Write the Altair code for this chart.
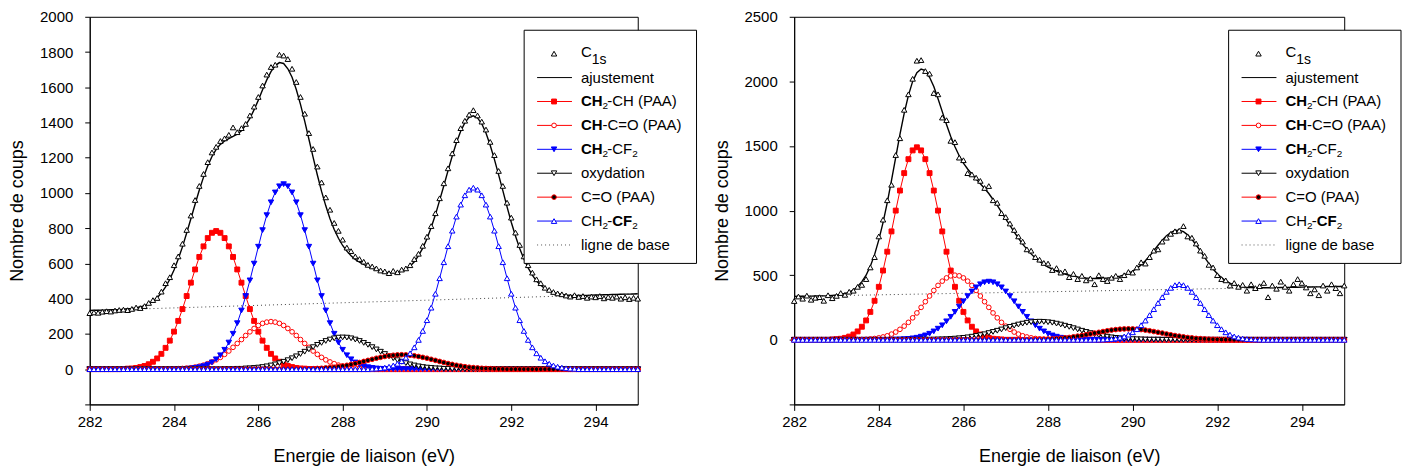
import altair as alt
import pandas as pd

FONT = "Liberation Sans"
RED = "#ff0000"
BLUE = "#0000ff"
BLACK = "#000000"

# ---------------- shared axis data ----------------
energy = [round(282 + 0.1 * i, 1) for i in range(131)]
x_ticks = [282, 284, 286, 288, 290, 292, 294]

# ---------------- left panel ----------------
left_y_ticks = [-200, 0, 200, 400, 600, 800, 1000, 1200, 1400, 1600, 1800, 2000]
left_raw = [318, 322, 320, 326, 329, 327, 333, 336, 338, 335,
            342, 350, 347, 358, 376, 392, 404, 440, 488, 522,
            590, 640, 712, 790, 872, 960, 1040, 1108, 1175, 1230,
            1262, 1295, 1310, 1330, 1372, 1345, 1368, 1392, 1440, 1490,
            1545, 1610, 1672, 1715, 1728, 1785, 1780, 1760, 1705, 1630,
            1545, 1450, 1340, 1250, 1150, 1060, 975, 905, 830, 785,
            735, 690, 670, 640, 625, 610, 592, 583, 572, 560,
            555, 545, 558, 550, 565, 572, 590, 625, 655, 700,
            752, 812, 885, 970, 1055, 1140, 1225, 1300, 1368, 1410,
            1445, 1470, 1440, 1405, 1360, 1290, 1215, 1125, 1040, 945,
            860, 775, 705, 640, 590, 548, 510, 488, 462, 450,
            438, 430, 425, 418, 412, 420, 410, 415, 405, 412,
            408, 415, 402, 410, 405, 412, 400, 408, 398, 405, 400]
left_fit = [333, 334, 334, 335, 336, 337, 337, 338, 340, 343,
            344, 348, 354, 361, 371, 386, 406, 432, 467, 510,
            563, 625, 694, 773, 854, 936, 1017, 1090, 1154, 1207,
            1248, 1276, 1295, 1309, 1321, 1334, 1353, 1385, 1423, 1473,
            1527, 1586, 1642, 1689, 1723, 1740, 1735, 1705, 1657, 1587,
            1503, 1408, 1305, 1202, 1102, 1009, 927, 854, 793, 743,
            702, 670, 644, 623, 608, 594, 582, 573, 564, 556,
            551, 548, 548, 549, 556, 568, 585, 610, 644, 687,
            740, 804, 876, 958, 1041, 1127, 1210, 1286, 1350, 1399,
            1429, 1438, 1426, 1393, 1340, 1271, 1191, 1103, 1013, 921,
            834, 756, 685, 625, 575, 534, 500, 476, 457, 444,
            434, 428, 424, 421, 419, 419, 418, 418, 419, 420,
            421, 421, 422, 423, 424, 424, 425, 426, 426, 427, 428]
left_ch2ch = [0] * 8 + [1, 3, 4, 7, 12, 18, 28, 42, 61, 87, 121, 162, 213, 274, 341, 415, 491, 566, 637, 697, 744, 774,
                        784,
                        774, 744, 697, 637, 566, 491, 415, 341, 274, 213, 162, 121, 87, 61, 42, 28, 18, 12, 7, 4, 3, 1] + [0] * 78
left_chco = [0] * 19 + [1, 2, 3, 4, 6, 8, 12, 17, 23, 31, 41, 53, 67, 84, 103, 124, 146, 168, 191, 212, 231, 248, 260, 267,
                        270,
                        267, 260, 248, 231, 212, 191, 168, 146, 124, 103, 84, 67, 53, 41, 31, 23, 17, 12, 8, 6, 4, 3, 2, 1] + [0] * 63
left_ch2cf2 = [0] * 23 + [2, 4, 7, 11, 17, 26, 38, 56, 79, 110, 151, 201, 261, 333, 415, 504, 599, 695, 789, 874, 947, 1003, 1038,
                          1050,
                          1038, 1003, 947, 874, 789, 695, 599, 504, 415, 333, 261, 201, 151, 110, 79, 56, 38, 26, 17, 11, 7, 4, 2] + [0] * 61
left_oxyd = [0] * 32 + [1, 1, 1, 2, 2, 4, 5, 7, 9, 12, 16, 21, 27, 34, 42, 51, 62, 73, 86, 99, 112, 125, 138, 149, 160, 168, 175, 179,
                        180,
                        179, 175, 168, 160, 149, 138, 125, 112, 99, 86, 73, 62, 51, 42, 34, 27, 21, 16, 12, 9, 7, 5, 4, 2, 2, 1, 1, 1] + [0] * 42
left_co = [0] * 50 + [1, 1, 2, 3, 4, 5, 7, 9, 11, 14, 18, 22, 27, 32, 38, 44, 50, 56, 62, 67, 72, 76, 79, 81,
                      82,
                      81, 79, 76, 72, 67, 62, 56, 50, 44, 38, 32, 27, 22, 18, 14, 11, 9, 7, 5, 4, 3, 2, 1, 1] + [0] * 32
left_cf2 = [0] * 67 + [2, 3, 5, 9, 14, 21, 31, 45, 65, 90, 124, 166, 217, 278, 349, 428, 516, 607, 698, 786, 866, 934, 987, 1019,
                       1030,
                       1019, 987, 934, 866, 786, 698, 607, 516, 428, 349, 278, 217, 166, 124, 90, 65, 45, 31, 21, 14, 9, 5, 3, 2] + [0] * 15
left_base_x = [282, 295]
left_base_y = [333, 428]

# ---------------- right panel ----------------
right_y_ticks = [-500, 0, 500, 1000, 1500, 2000, 2500]
right_raw = [300, 335, 318, 342, 310, 325, 330, 302, 345, 322,
             340, 362, 348, 372, 380, 410, 425, 470, 560, 640,
             800, 930, 1080, 1200, 1430, 1560, 1780, 1900, 2020, 2160,
             2165, 2080, 2060, 1910, 1900, 1720, 1700, 1540, 1530, 1410,
             1390, 1290, 1280, 1255, 1230, 1175, 1190, 1080, 1060, 980,
             950, 900, 850, 800, 760, 700, 690, 640, 620, 595,
             590, 540, 555, 520, 530, 485, 510, 470, 495, 460,
             475, 430, 500, 470, 455, 480, 495, 470, 500, 525,
             520, 560, 600, 590, 640, 690, 700, 760, 790, 820,
             840, 845, 880, 800, 790, 745, 690, 650, 580, 560,
             500, 470, 460, 420, 440, 410, 425, 380, 430, 400,
             415, 440, 330, 420, 395, 450, 410, 380, 430, 470,
             440, 405, 360, 390, 345, 420, 380, 430, 400, 360, 420]
right_fit = [336, 337, 337, 338, 338, 339, 340, 340, 341, 344,
             347, 351, 358, 369, 386, 412, 450, 500, 570, 659,
             773, 907, 1062, 1234, 1412, 1590, 1753, 1892, 2000, 2067,
             2096, 2083, 2032, 1960, 1866, 1766, 1667, 1574, 1494, 1425,
             1368, 1322, 1281, 1245, 1208, 1171, 1132, 1086, 1040, 989,
             936, 886, 834, 787, 740, 702, 665, 633, 607, 583,
             563, 548, 532, 519, 509, 500, 494, 487, 482, 478,
             475, 474, 474, 476, 478, 481, 486, 493, 502, 515,
             531, 553, 580, 612, 648, 689, 732, 770, 805, 830,
             846, 849, 837, 812, 778, 734, 688, 638, 591, 548,
             512, 481, 456, 439, 424, 416, 410, 406, 405, 403,
             403, 403, 403, 404, 404, 405, 406, 406, 407, 407,
             408, 409, 409, 410, 410, 411, 412, 412, 413, 413, 414]
right_ch2ch = [0] * 9 + [3, 5, 8, 15, 25, 41, 65, 101, 150, 216, 302, 410, 536, 682, 839, 1000, 1155, 1290, 1398, 1466,
                         1490,
                         1466, 1398, 1290, 1155, 1000, 839, 682, 536, 410, 302, 216, 150, 101, 65, 41, 25, 15, 8, 5, 3] + [0] * 81
right_chco = [0] * 14 + [1, 2, 3, 4, 7, 10, 15, 22, 31, 44, 60, 81, 106, 135, 170, 208, 251, 295, 339, 382, 421, 454, 479, 495,
                         500,
                         495, 479, 454, 421, 382, 339, 295, 251, 208, 170, 135, 106, 81, 60, 44, 31, 22, 15, 10, 7, 4, 3, 2, 1] + [0] * 68
right_ch2cf2 = [0] * 23 + [1, 2, 3, 5, 7, 11, 16, 24, 34, 47, 65, 86, 112, 143, 178, 216, 257, 298, 338, 374, 406, 430, 445,
                           450,
                           445, 430, 406, 374, 338, 298, 257, 216, 178, 143, 112, 86, 65, 47, 34, 24, 16, 11, 7, 5, 3, 2, 1] + [0] * 61
right_oxyd = [0] * 30 + [1, 1, 1, 2, 3, 4, 5, 7, 9, 12, 15, 19, 24, 30, 36, 43, 52, 61, 70, 80, 90, 100, 109, 118, 125, 132, 136, 139,
                         140,
                         139, 136, 132, 125, 118, 109, 100, 90, 80, 70, 61, 52, 43, 36, 30, 24, 19, 15, 12, 9, 7, 5, 4, 3, 2, 1, 1, 1] + [0] * 44
right_co = [0] * 55 + [1, 1, 2, 3, 4, 5, 7, 9, 11, 15, 18, 23, 28, 33, 39, 45, 52, 58, 64, 70, 75, 79, 82, 84,
                       85,
                       84, 82, 79, 75, 70, 64, 58, 52, 45, 39, 33, 28, 23, 18, 15, 11, 9, 7, 5, 4, 3, 2, 1, 1] + [0] * 27
right_cf2 = [0] * 72 + [1, 2, 4, 6, 10, 17, 26, 40, 58, 82, 113, 149, 191, 237, 285, 330, 371, 402, 423,
                        430,
                        423, 402, 371, 330, 285, 237, 191, 149, 113, 82, 58, 40, 26, 17, 10, 6, 4, 2, 1] + [0] * 20
right_base_x = [282, 295]
right_base_y = [336, 414]

# ---------------- styles ----------------
# key, line colour, marker shape, marker fill, marker stroke, marker size
COMP_STYLE = [
    ("ch2ch", RED, "square", RED, RED, 24),
    ("chco", RED, "circle", "white", RED, 22),
    ("ch2cf2", BLUE, "triangle-down", BLUE, BLUE, 30),
    ("oxyd", BLACK, "triangle-down", "white", BLACK, 30),
    ("co", RED, "circle", BLACK, RED, 22),
    ("cf2", BLUE, "triangle-up", "white", BLUE, 30),
]


def make_panel(raw, fit, comps, base_x, base_y, ydom, yticks, width, height):
    d = {"E": energy, "raw": raw, "fit": fit}
    d.update(comps)
    df = pd.DataFrame(d)
    bdf = pd.DataFrame({"E": base_x, "v": base_y})

    xenc = alt.X("E:Q", scale=alt.Scale(domain=[282, 295], nice=False, zero=False),
                 axis=alt.Axis(values=x_ticks, format="d", title="Energie de liaison (eV)",
                               titleFont=FONT, titleFontSize=18, titleFontWeight="normal",
                               titleColor=BLACK, labelFont=FONT, labelFontSize=15, labelColor=BLACK,
                               tickSize=6, tickColor=BLACK, domainColor=BLACK, labelPadding=4,
                               titlePadding=18, grid=False, labelFlush=False, labelOverlap=False))
    yscale = alt.Scale(domain=ydom, nice=False, zero=False)
    yaxis = alt.Axis(values=yticks, format="d", title="Nombre de coups",
                     titleFont=FONT, titleFontSize=18, titleFontWeight="normal", titleColor=BLACK,
                     labelFont=FONT, labelFontSize=15, labelColor=BLACK, tickSize=5, tickColor=BLACK,
                     domainColor=BLACK, labelPadding=12, titlePadding=13, grid=False,
                     labelFlush=False, labelOverlap=False,
                     labelExpr="datum.value < 0 ? '' : datum.label")

    def Y(f):
        return alt.Y(f + ":Q", scale=yscale, axis=yaxis)

    layers = []
    base = alt.Chart(df)
    layers.append(alt.Chart(bdf).mark_line(color="#444", strokeDash=[1, 3], strokeWidth=1)
                  .encode(x=xenc, y=Y("v")))
    layers.append(base.mark_line(color=BLACK, strokeWidth=1.4).encode(x=xenc, y=Y("fit")))
    layers.append(base.mark_point(shape="triangle-up", size=30, fill="white", stroke=BLACK,
                                  strokeWidth=1, opacity=1).encode(x=xenc, y=Y("raw")))
    for key, lc, shp, mf, ms, sz in COMP_STYLE:
        layers.append(base.mark_line(color=lc, strokeWidth=1).encode(x=xenc, y=Y(key)))
        layers.append(base.mark_point(shape=shp, size=sz, fill=mf, stroke=ms, strokeWidth=1,
                                      opacity=1).encode(x=xenc, y=Y(key)))

    # ----- hand-drawn legend (mixed bold / subscript text) -----
    one = alt.Chart(pd.DataFrame({"k": [0]}))
    bx = 436
    layers.append(one.mark_rect(fill="white", stroke=BLACK, strokeWidth=1)
                  .encode(x=alt.value(bx), x2=alt.value(bx + 173), y=alt.value(13.5), y2=alt.value(247.5)))
    rows_y = [37 + 24 * k for k in range(9)]
    sample = [
        (None, "triangle-up", "white", BLACK, 30),
        (BLACK, None, None, None, None),
    ] + [(lc, shp, mf, ms, sz) for _, lc, shp, mf, ms, sz in COMP_STYLE] + [("dot", None, None, None, None)]
    for ry, (lc, shp, mf, ms, sz) in zip(rows_y, sample):
        if lc == "dot":
            layers.append(one.mark_rule(color="#555", strokeDash=[1, 3], strokeWidth=1)
                          .encode(x=alt.value(bx + 13), x2=alt.value(bx + 48), y=alt.value(ry)))
        elif lc is not None:
            layers.append(one.mark_rule(color=lc, strokeWidth=1)
                          .encode(x=alt.value(bx + 13), x2=alt.value(bx + 48), y=alt.value(ry)))
        if shp is not None:
            layers.append(one.mark_point(shape=shp, size=sz, fill=mf, stroke=ms, strokeWidth=1, opacity=1)
                          .encode(x=alt.value(bx + 30), y=alt.value(ry)))

    tx = bx + 57
    # (row, dx, dy, text, size, weight)
    pieces = [
        (0, 0, -2, "C", 15, "normal"), (0, 10.8, 6, "1s", 14, "normal"),
        (1, 0, 0, "ajustement", 15, "normal"),
        (2, 0, 0, "CH", 15, "bold"), (2, 21.7, 5, "2", 10, "normal"), (2, 26.5, 0, "-CH (PAA)", 15, "normal"),
        (3, 0, 0, "CH", 15, "bold"), (3, 21.7, 0, "-C=O (PAA)", 15, "normal"),
        (4, 0, 0, "CH", 15, "bold"), (4, 21.7, 5, "2", 10, "normal"), (4, 26.5, 0, "-CF", 15, "normal"),
        (4, 51.5, 5, "2", 10, "normal"),
        (5, 0, 0, "oxydation", 15, "normal"),
        (6, 0, 0, "C=O (PAA)", 15, "normal"),
        (7, 0, 0, "CH", 15, "normal"), (7, 21.7, 5, "2", 10, "normal"), (7, 26.5, 0, "-", 15, "normal"),
        (7, 31.5, 0, "CF", 15, "bold"), (7, 51.5, 5, "2", 10, "normal"),
        (8, 0, 0, "ligne de base", 15, "normal"),
    ]
    for row, dx, dy, txt, fs, fw in pieces:
        layers.append(one.mark_text(align="left", baseline="middle", font=FONT, fontSize=fs,
                                    fontWeight=fw, color=BLACK)
                      .encode(x=alt.value(tx + dx), y=alt.value(rows_y[row] + dy), text=alt.value(txt)))

    return alt.layer(*layers).properties(width=width, height=height)


left = make_panel(left_raw, left_fit,
                  {"ch2ch": left_ch2ch, "chco": left_chco, "ch2cf2": left_ch2cf2,
                   "oxyd": left_oxyd, "co": left_co, "cf2": left_cf2},
                  left_base_x, left_base_y, [-200, 2000], left_y_ticks, 550, 389)
right = make_panel(right_raw, right_fit,
                   {"ch2ch": right_ch2ch, "chco": right_chco, "ch2cf2": right_ch2cf2,
                    "oxyd": right_oxyd, "co": right_co, "cf2": right_cf2},
                   right_base_x, right_base_y, [-500, 2500], right_y_ticks, 552, 389)

chart = (alt.hconcat(left, right, spacing=15)
         .properties(padding=0, background="white")
         .configure_view(stroke=BLACK, strokeWidth=1))

chart.save("out.html", embed_options={"renderer": "svg", "actions": False})
